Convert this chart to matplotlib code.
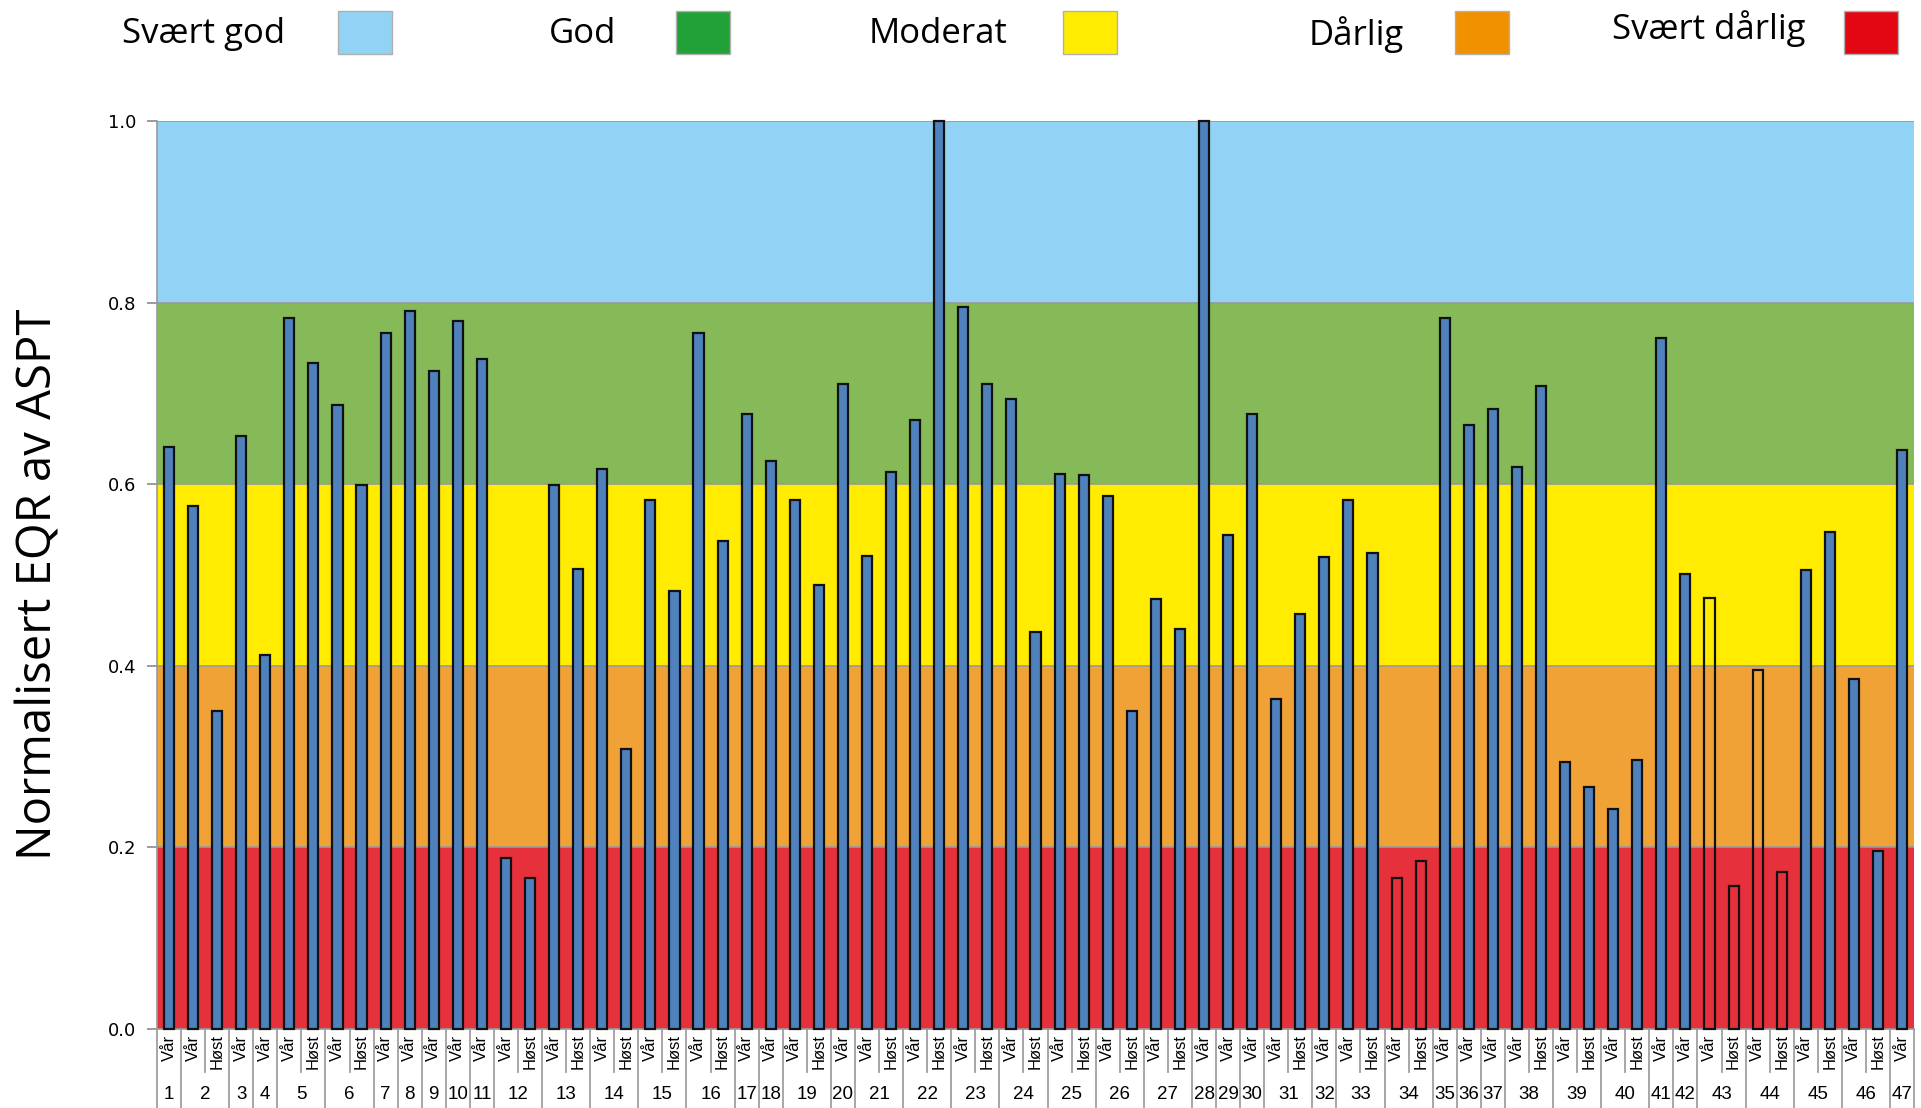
import numpy as np
import matplotlib
matplotlib.use("Agg")
import matplotlib.pyplot as plt
import matplotlib.transforms as mtransforms
from matplotlib.patches import Rectangle

# Sites 1..47, sampled in spring (Vår) and some also in autumn (Høst)
site_numbers = list(range(1, 48))
sites_with_autumn = [2, 5, 6, 12, 13, 14, 15, 16, 19, 21, 22, 23, 24, 25, 26, 27,
                     31, 33, 34, 38, 39, 40, 43, 44, 45, 46]

# Normalised EQR (ASPT), one per sample in order
eqr_values = [0.641, 0.576, 0.350, 0.653, 0.412, 0.783, 0.734, 0.687, 0.599, 0.767,
              0.791, 0.725, 0.780, 0.738, 0.188, 0.166, 0.599, 0.507, 0.617, 0.308,
              0.583, 0.482, 0.767, 0.537, 0.677, 0.626, 0.583, 0.489, 0.710, 0.521,
              0.613, 0.671, 1.000, 0.795, 0.710, 0.694, 0.437, 0.611, 0.610, 0.587,
              0.350, 0.474, 0.441, 1.000, 0.544, 0.677, 0.363, 0.457, 0.520, 0.583,
              0.524, 0.166, 0.185, 0.783, 0.665, 0.683, 0.619, 0.708, 0.294, 0.266,
              0.242, 0.296, 0.761, 0.501, 0.475, 0.158, 0.395, 0.173, 0.505, 0.547,
              0.386, 0.196, 0.638]
# samples drawn as empty outlines
hollow_samples = [51, 52, 64, 65, 66, 67]

# class boundaries
class_names = ["Svært god", "God", "Moderat", "Dårlig", "Svært dårlig"]
class_bounds = [(0.8, 1.0), (0.6, 0.8), (0.4, 0.6), (0.2, 0.4), (0.0, 0.2)]
band_colors = ["#92D3F5", "#86BA58", "#FFEC00", "#F0A236", "#E6313D"]
legend_colors = ["#92D3F5", "#21A137", "#FFEC00", "#F29100", "#E30613"]

# build sample labels
season_labels = []
group_of = []
for s in site_numbers:
    season_labels.append("Vår")
    group_of.append(s)
    if s in sites_with_autumn:
        season_labels.append("Høst")
        group_of.append(s)
x = np.arange(len(eqr_values))

fig = plt.figure(figsize=(19.21, 11.08), dpi=100)
ax = fig.add_axes([0.0817, 0.0713, 0.9147, 0.8195])

for (lo, hi), c in zip(class_bounds, band_colors):
    ax.axhspan(lo, hi, color=c, lw=0, zorder=0)
for yb in [0.2, 0.4, 0.6, 0.8, 1.0]:
    ax.axhline(yb, color="#9a9a9a", lw=1.2, zorder=1)

face = ["none" if i in hollow_samples else "#4F81BD" for i in range(len(eqr_values))]
ax.bar(x, eqr_values, width=0.42, color=face, edgecolor="#111111", linewidth=1.6,
       zorder=3, clip_on=False)

ax.set_xlim(-0.5, len(eqr_values) - 0.5)
ax.set_ylim(0, 1.0)
ax.set_yticks([0.0, 0.2, 0.4, 0.6, 0.8, 1.0])
ax.set_yticklabels(["0.0", "0.2", "0.4", "0.6", "0.8", "1.0"], fontsize=13,
                   family="DejaVu Sans")
ax.tick_params(axis="y", length=7, width=1.2, color="#8a8a8a", pad=8)
ax.set_xticks([])
for side in ["top", "right"]:
    ax.spines[side].set_visible(False)
for side in ["left", "bottom"]:
    ax.spines[side].set_color("#9a9a9a")
    ax.spines[side].set_linewidth(1.2)

# two-row category axis
trans = mtransforms.blended_transform_factory(ax.transData, ax.transAxes)
for i, lab in enumerate(season_labels):
    ax.text(i, -0.006, lab, transform=trans, rotation=90, ha="center", va="top",
            fontsize=12, family=["Liberation Sans Narrow", "Liberation Sans"])
for i in range(len(season_labels) + 1):
    new_group = i == 0 or i == len(season_labels) or group_of[i] != group_of[i - 1]
    ybot = -0.1 if new_group else -0.047
    ax.plot([i - 0.5, i - 0.5], [0, ybot], transform=trans, color="#a0a0a0",
            lw=1.3, clip_on=False)
for s in site_numbers:
    idx = [i for i, g in enumerate(group_of) if g == s]
    ax.text(np.mean(idx), -0.072, str(s), transform=trans, ha="center", va="center",
            fontsize=13.5, family="Liberation Sans")

fig.text(0.020, 0.473, "Normalisert EQR av ASPT", rotation=90, ha="center",
         va="center", fontsize=34, family="Open Sans")

# legend across the top
text_right = [0.1484, 0.3207, 0.5247, 0.7309, 0.9401]
patch_left = [0.1760, 0.3519, 0.5534, 0.7574, 0.9599]
for name, c, tr, pl in zip(class_names, legend_colors, text_right, patch_left):
    fig.text(tr, 0.969 if name != "Svært dårlig" else 0.974, name, ha="right",
             va="center", fontsize=25, family="Open Sans")
    fig.patches.append(Rectangle((pl, 0.951), 0.0281, 0.039, transform=fig.transFigure,
                                 facecolor=c, edgecolor="#b0b0b0", lw=1))

fig.savefig("out.png", dpi=100)
